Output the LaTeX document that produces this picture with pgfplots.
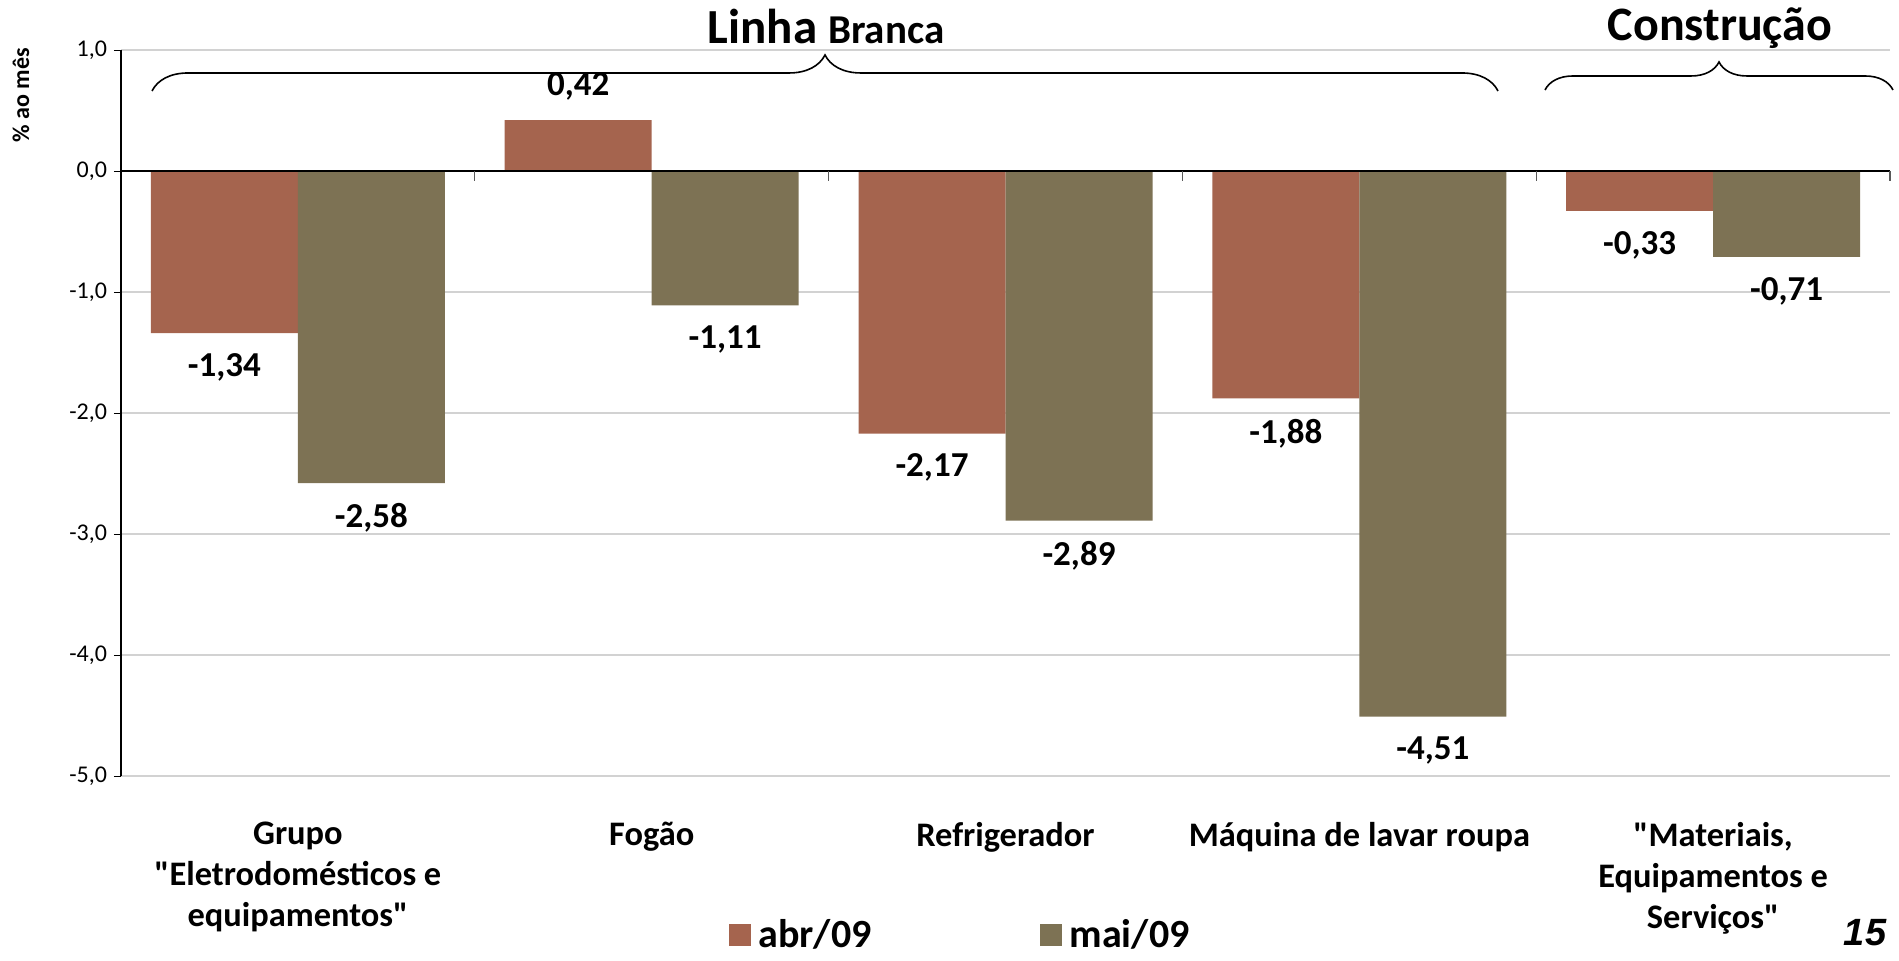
\documentclass[border=0pt]{standalone}
\usepackage{fontspec}
\setmainfont{Carlito}[Ligatures=TeXOff]
\newfontfamily\arialf{Liberation Sans}
\usepackage{pgfplots}
\pgfplotsset{compat=1.18}
\usetikzlibrary{decorations.pathreplacing}

\definecolor{abr}{HTML}{A5644E}
\definecolor{mai}{HTML}{7D7254}

\pgfplotstableread{
x  y      lbl
0  -1.34  -1,34
1   0.42  0,42
2  -2.17  -2,17
3  -1.88  -1,88
4  -0.33  -0,33
}\abrtab
\pgfplotstableread{
x  y      lbl
0  -2.58  -2,58
1  -1.11  -1,11
2  -2.89  -2,89
3  -4.51  -4,51
4  -0.71  -0,71
}\maitab

\begin{document}
\begin{tikzpicture}
\begin{axis}[
  scale only axis, width=884.5pt, height=363pt,
  xmin=-0.5, xmax=4.5, ymin=-5, ymax=1,
  ybar=0pt, bar width=73.5pt,
  axis y line*=left, axis x line*=bottom,
  x axis line style={draw=none},
  xtick={0,1,2,3,4}, xtick style={draw=none},
  xticklabels={{Grupo\\"Eletrodomésticos e\\equipamentos"},{Fogão},{Refrigerador},{Máquina de lavar roupa},{"Materiais,\\Equipamentos e\\Serviços"}},
  xticklabel style={font=\fontsize{17.2}{20.5}\selectfont\bfseries, align=center, yshift=-16pt},
  ytick={-5,-4,-3,-2,-1,0,1},
  yticklabels={{-5,0},{-4,0},{-3,0},{-2,0},{-1,0},{0,0},{1,0}},
  yticklabel style={font=\fontsize{12}{14}\selectfont},
  ytick style={black}, tick align=outside, major tick length=3.5pt,
  ymajorgrids, grid style={gray!35, line width=0.6pt},
  axis line style={black, line width=0.6pt},
  nodes near coords={\pgfplotspointmeta},
  point meta=explicit symbolic,
  visualization depends on={rawy \as \ry},
  every node near coord/.append style={font=\fontsize{17.5}{20}\selectfont\bfseries, black, inner sep=10pt,
    /utils/exec={\pgfmathparse{\ry<0}\ifnum\pgfmathresult=1 \def\anc{north}\else\def\anc{south}\fi},
    anchor=\anc},
  legend columns=2,
  legend style={draw=none, fill=none, at={(0.476,-0.219)}, anchor=center,
    font=\fontsize{20}{24}\selectfont\bfseries, nodes={inner xsep=4pt},
    /tikz/every even column/.append style={column sep=80pt}},
  legend image code/.code={\fill[#1] (0pt,-5.5pt) rectangle (11pt,5.5pt);},
  clip=false,
]
\addplot[fill=abr, draw=none] table[x=x, y=y, meta=lbl] {\abrtab};
\addlegendentry{abr/09}
\addplot[fill=mai, draw=none] table[x=x, y=y, meta=lbl] {\maitab};
\addlegendentry{mai/09}
\draw[black, line width=0.6pt] (axis cs:-0.5,0) -- (axis cs:4.5,0);
\pgfplotsinvokeforeach{0.5,1.5,2.5,3.5,4.5}{
  \draw[gray!70!black, line width=0.6pt] (axis cs:#1,0) -- ([yshift=-5pt]axis cs:#1,0);
}
\end{axis}
\draw[decorate, decoration={brace, amplitude=18pt}, line width=0.8pt] (15.5pt,342.5pt) -- (688.5pt,342.5pt);
\draw[decorate, decoration={brace, amplitude=14pt}, line width=0.8pt] (712pt,343pt) -- (886pt,343pt);
\node[font=\bfseries] at (352.5pt,374.5pt) {\fontsize{24.5}{27}\selectfont Linha \fontsize{20.5}{23}\selectfont Branca};
\node[font=\fontsize{24}{27}\selectfont\bfseries] at (799.5pt,374pt) {Construção};
\node[rotate=90, font=\fontsize{12}{14}\selectfont\bfseries] at (-50pt,340.5pt) {\% ao mês};
\node[font=\arialf\fontsize{19}{22}\selectfont\bfseries\itshape] at (872pt,-78.5pt) {15};
\pgfresetboundingbox
\path[use as bounding box] (-60.5pt,-92.5pt) rectangle (889pt,388pt);
\end{tikzpicture}
\end{document}
